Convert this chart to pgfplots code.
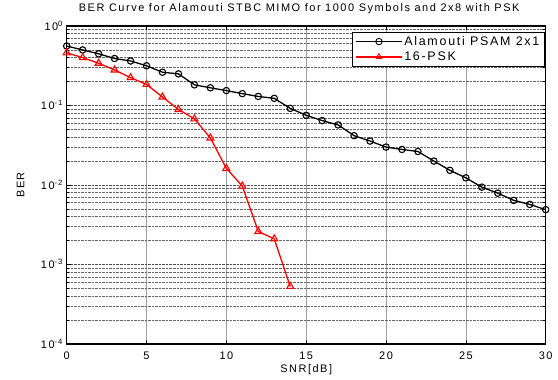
\documentclass[border=0pt]{standalone}
\usepackage{pgfplots}
\pgfplotsset{compat=1.18}
\usepackage{fontspec}
\setmainfont[LetterSpace=14]{Liberation Sans}
\begin{document}
\begin{tikzpicture}
\useasboundingbox (-66.7bp,-36bp) rectangle (491.3bp,344bp);
\begin{axis}[
  at={(0,0)}, anchor=south west,
  scale only axis,
  width=479bp, height=318bp,
  xmin=0, xmax=30, ymin=1e-4, ymax=1,
  ymode=log,
  xtick={0,5,...,30},
  ytick={1e-4,1e-3,1e-2,1e-1,1},
  yticklabels={10\textsuperscript{-4},10\textsuperscript{-3},10\textsuperscript{-2},10\textsuperscript{-1},10\textsuperscript{0}},
  minor ytick={2e-4,3e-4,4e-4,5e-4,6e-4,7e-4,8e-4,9e-4,
               2e-3,3e-3,4e-3,5e-3,6e-3,7e-3,8e-3,9e-3,
               2e-2,3e-2,4e-2,5e-2,6e-2,7e-2,8e-2,9e-2,
               0.2,0.3,0.4,0.5,0.6,0.7,0.8,0.9},
  tick align=inside,
  axis line style={line width=1.3pt},
  every tick/.style={black, line width=0.6pt},
  major tick length=4bp, minor tick length=2.5bp,
  /pgf/number format/assume math mode=true,
  tick label style={font=\fontsize{11}{12}\selectfont},
  xticklabel style={anchor=base, yshift=-15bp},
  yticklabel style={anchor=base east, yshift=-4bp, inner xsep=3.5bp},
  xlabel={SNR[dB]}, ylabel={BER},
  xlabel style={font=\fontsize{11}{12}\selectfont, at={(axis description cs:0.5,0)}, anchor=base, yshift=-28bp},
  ylabel style={font=\fontsize{11}{12}\selectfont, at={(axis description cs:0,0.5)}, anchor=center, yshift=46bp},
  title={BER Curve for Alamouti STBC MIMO for 1000 Symbols and 2x8 with PSK},
  title style={font=\fontsize{11}{12}\selectfont, at={(axis description cs:0.5,1)}, anchor=base, yshift=9bp, xshift=-7bp},
  xmajorgrids, ymajorgrids, yminorgrids,
  x grid style={gray!75, line width=0.5pt},
  major y grid style={black!70, densely dotted, line width=0.5pt},
  minor y grid style={black!60, densely dotted, line width=0.5pt},
  legend style={at={(1,1)}, xshift=-1bp, yshift=-6bp, anchor=north east, draw=black, line width=0.6pt,
    font=\fontsize{12.5}{13}\selectfont, cells={anchor=west}, inner xsep=3bp, inner ysep=2bp,
    row sep=1bp},
  legend image code/.code={\draw[line width=1.3pt, mark repeat=2, mark phase=2, mark size=3.2bp, mark options={line width=0.9pt}] plot coordinates {(0cm,0cm) (0.8cm,0cm) (1.6cm,0cm)};},
]
\addplot[black, line width=1.3pt, mark=o, mark size=3.2bp, mark options={line width=1.1pt}] coordinates {
(0,0.56) (1,0.50) (2,0.447) (3,0.39) (4,0.363) (5,0.316) (6,0.262) (7,0.25)
(8,0.182) (9,0.167) (10,0.154) (11,0.141) (12,0.130) (13,0.123) (14,0.092)
(15,0.0753) (16,0.0646) (17,0.057) (18,0.0417) (19,0.0357) (20,0.030)
(21,0.028) (22,0.0264) (23,0.020) (24,0.0153) (25,0.0123) (26,0.0094)
(27,0.0079) (28,0.0064) (29,0.0057) (30,0.0049)
};
\addlegendentry{Alamouti PSAM 2x1}
\addplot[red, line width=1.3pt, mark=triangle, mark size=4bp, mark options={line width=1.1pt}] coordinates {
(0,0.46) (1,0.40) (2,0.34) (3,0.28) (4,0.224) (5,0.184) (6,0.128) (7,0.089)
(8,0.068) (9,0.039) (10,0.0162) (11,0.0097) (12,0.0026) (13,0.0021) (14,0.00053)
};
\addlegendentry{16-PSK}
\end{axis}
\end{tikzpicture}
\end{document}
